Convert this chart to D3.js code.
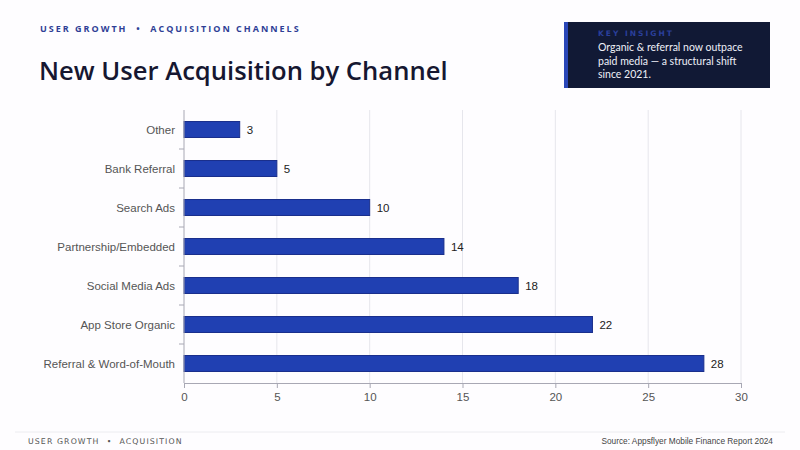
<!DOCTYPE html>
<html>
<head>
<meta charset="utf-8">
<script src="https://cdn.jsdelivr.net/npm/d3@7"></script>
<style>
  html, body { margin: 0; padding: 0; background: #fefdff; }
  svg { display: block; }
</style>
</head>
<body>
<svg id="chart" width="800" height="450"></svg>
<script>
// --- Data ---
const channels = [
  'Other',
  'Bank Referral',
  'Search Ads',
  'Partnership/Embedded',
  'Social Media Ads',
  'App Store Organic',
  'Referral & Word-of-Mouth'
];
const shares = [3, 5, 10, 14, 18, 22, 28];
const xTicks = [0, 5, 10, 15, 20, 25, 30];

const svg = d3.select('#chart');
const W = 800, H = 450;
const margin = { left: 184, right: 59, top: 110, bottom: 67 };

// --- Header ---
svg.append('text')
  .attr('x', 40).attr('y', 32)
  .attr('font-family', 'Open Sans, sans-serif')
  .attr('font-size', 9).attr('font-weight', 'bold')
  .attr('letter-spacing', 2)
  .attr('fill', '#2f3f96')
  .style('white-space', 'pre')
  .text('USER GROWTH  •  ACQUISITION CHANNELS');

svg.append('text')
  .attr('x', 39).attr('y', 80)
  .attr('font-family', 'Open Sans, sans-serif')
  .attr('font-size', 25.6).attr('font-weight', 600)
  .attr('fill', '#161731')
  .text('New User Acquisition by Channel');

// --- Insight card ---
const card = svg.append('g').attr('transform', 'translate(564,22)');
card.append('rect').attr('width', 206).attr('height', 66).attr('fill', '#111935');
card.append('rect').attr('width', 4).attr('height', 66).attr('fill', '#2a47b8');
card.append('text')
  .attr('x', 34).attr('y', 14)
  .attr('font-family', 'DejaVu Sans, sans-serif')
  .attr('font-size', 7.5).attr('font-weight', 'bold')
  .attr('letter-spacing', 2)
  .attr('fill', '#2a3f9a')
  .text('KEY INSIGHT');
const insight = ['Organic & referral now outpace', 'paid media — a structural shift', 'since 2021.'];
card.selectAll('text.ins').data(insight).join('text')
  .attr('class', 'ins')
  .attr('x', 34).attr('y', (d, i) => 29 + i * 13.5)
  .attr('font-family', 'Lato, sans-serif')
  .attr('font-size', 10.5)
  .attr('fill', '#eef0f8')
  .text(d => d);

// --- Scales ---
const x = d3.scaleLinear().domain([0, 30]).range([margin.left, W - margin.right]);
const y = d3.scaleBand().domain(channels).range([margin.top, H - margin.bottom]).paddingInner(0.59).paddingOuter(0.295);

// gridlines
svg.append('g').selectAll('line').data(xTicks.slice(1)).join('line')
  .attr('x1', d => x(d)).attr('x2', d => x(d))
  .attr('y1', margin.top).attr('y2', H - margin.bottom)
  .attr('stroke', '#e6e6ec').attr('stroke-width', 1);

// bars
svg.append('g').selectAll('rect').data(shares).join('rect')
  .attr('x', x(0))
  .attr('y', (d, i) => y(channels[i]))
  .attr('width', d => x(d) - x(0))
  .attr('height', y.bandwidth())
  .attr('fill', '#2040b2')
  .attr('stroke', '#1a2f8c').attr('stroke-width', 1);

// value labels
svg.append('g').selectAll('text').data(shares).join('text')
  .attr('x', d => x(d) + 7)
  .attr('y', (d, i) => y(channels[i]) + y.bandwidth() / 2 + 4)
  .attr('font-family', 'Liberation Sans, Arial, sans-serif')
  .attr('font-size', 11.5)
  .attr('fill', '#222')
  .text(d => d);

// x axis
const xAxis = svg.append('g')
  .attr('transform', `translate(0,${H - margin.bottom})`)
  .call(d3.axisBottom(x).tickValues(xTicks).tickSize(5).tickSizeOuter(5));
xAxis.select('.domain').attr('stroke', '#a8a8b4');
xAxis.selectAll('.tick line').attr('stroke', '#a8a8b4');
xAxis.selectAll('.tick text')
  .attr('font-family', 'Liberation Sans, Arial, sans-serif')
  .attr('font-size', 11.5).attr('fill', '#555').attr('dy', '0.9em');

// y axis: ticks at band boundaries
const step = y.step();
const bounds = d3.range(channels.length + 1).map(i => margin.top + i * step);
svg.append('line')
  .attr('x1', margin.left).attr('x2', margin.left)
  .attr('y1', margin.top).attr('y2', H - margin.bottom)
  .attr('stroke', '#a8a8b4');
svg.append('g').selectAll('line').data(bounds.slice(1, -1)).join('line')
  .attr('x1', margin.left - 5).attr('x2', margin.left)
  .attr('y1', d => d).attr('y2', d => d)
  .attr('stroke', '#a8a8b4');
svg.append('g').selectAll('text').data(channels).join('text')
  .attr('x', margin.left - 9)
  .attr('y', d => y(d) + y.bandwidth() / 2 + 4)
  .attr('text-anchor', 'end')
  .attr('font-family', 'Liberation Sans, Arial, sans-serif')
  .attr('font-size', 11.5)
  .attr('fill', '#555')
  .text(d => d);

// --- Footer ---
svg.append('line')
  .attr('x1', 15).attr('x2', 785).attr('y1', 432).attr('y2', 432)
  .attr('stroke', '#ececf0');
svg.append('text')
  .attr('x', 28).attr('y', 444)
  .attr('font-family', 'DejaVu Sans, sans-serif')
  .attr('font-size', 7.8).attr('letter-spacing', 1.1)
  .attr('fill', '#555')
  .style('white-space', 'pre')
  .text('USER GROWTH  •  ACQUISITION');
svg.append('text')
  .attr('x', 773).attr('y', 444)
  .attr('text-anchor', 'end')
  .attr('font-family', 'Liberation Sans, Arial, sans-serif')
  .attr('font-size', 8.3)
  .attr('fill', '#444')
  .text('Source: Appsflyer Mobile Finance Report 2024');
</script>
</body>
</html>
